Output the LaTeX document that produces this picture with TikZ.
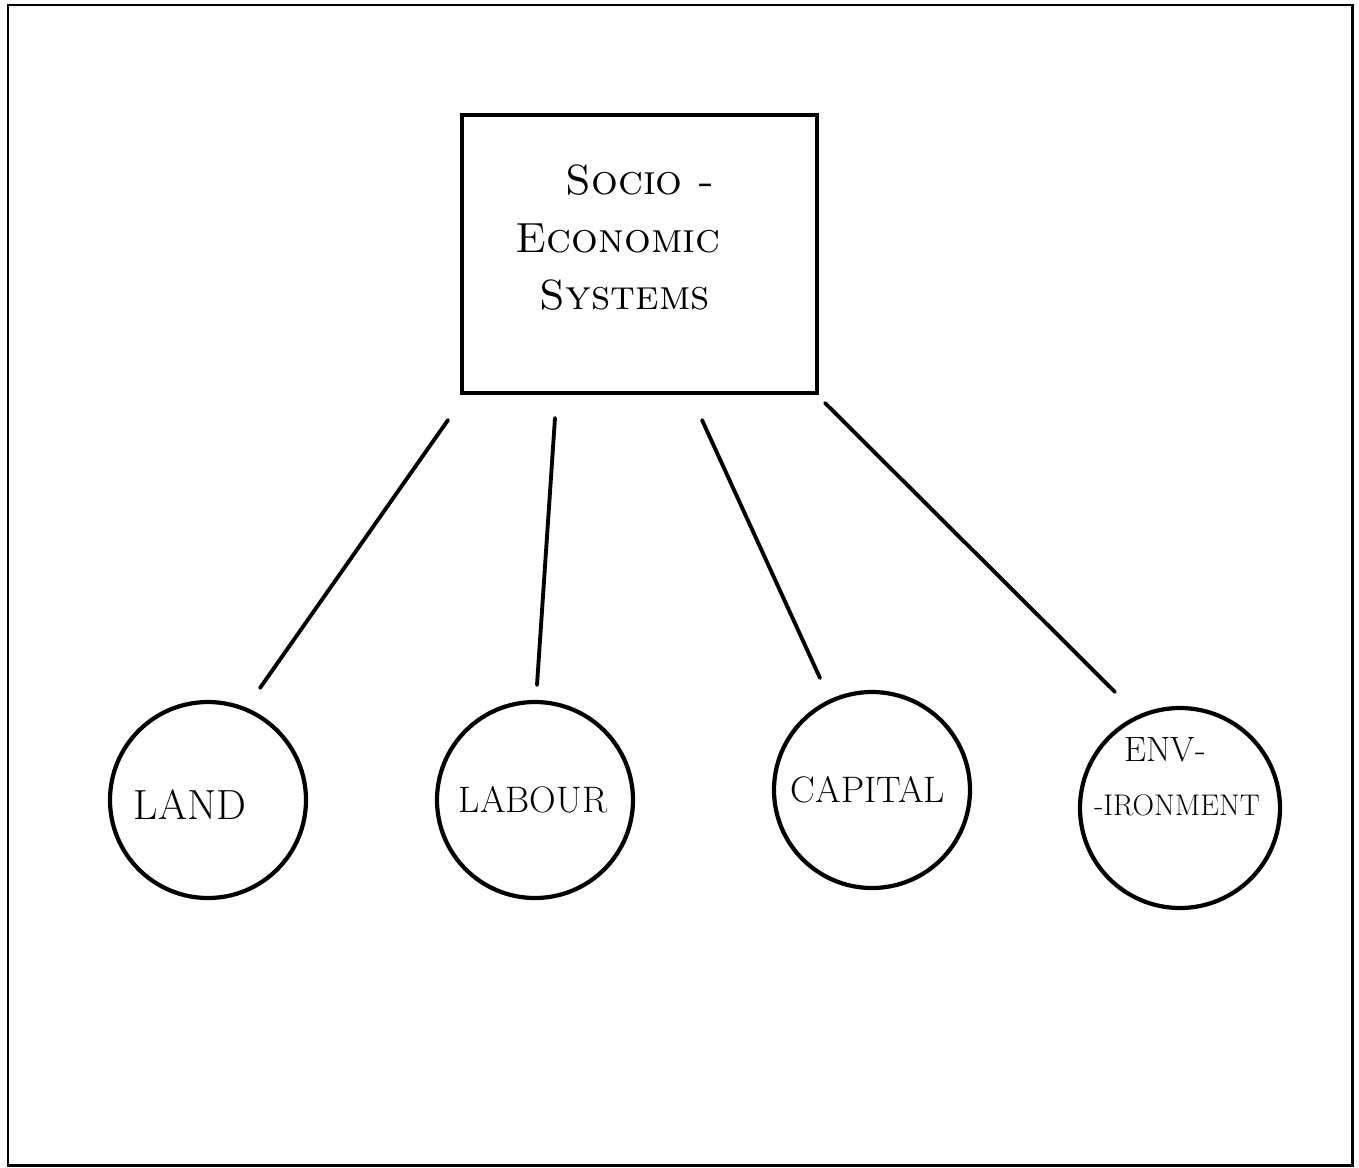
\documentclass[tikz,border=0pt]{standalone}
\usepackage{fontspec}
\begin{document}
\begin{tikzpicture}[x=0.02cm,y=-0.02cm,
  frame/.style={line width=1.7pt},
  boxst/.style={draw,line width=2pt,minimum width=355*0.02cm,minimum height=278*0.02cm,inner sep=0pt},
  circ/.style={draw,circle,line width=2.4pt,minimum size=196*0.02cm,inner sep=0pt},
  lbl/.style={font=\fontsize{24}{28}\selectfont\addfontfeature{LetterSpace=8}},
  conn/.style={line width=2.2pt,line cap=round}]
\useasboundingbox (0,0) rectangle (1359,1167);
\draw[frame] (8,5) rectangle (1352,1165);
\node[boxst] (sys) at (639.5,254) {};
\node[lbl] (t1) at (640,180) {\textsc{Socio -}};
\node[lbl] (t2) at (618,238) {\textsc{Economic}};
\node[lbl] (t3) at (625,295) {\textsc{Systems}};
\node[circ] (land) at (208,800) {};
\node[lbl] (landt) at (190,805) {LAND};
\node[circ] (labour) at (535,800) {};
\node[lbl,font=\fontsize{21}{26}\selectfont\addfontfeature{LetterSpace=8}] (labourt) at (533,800) {LABOUR};
\node[circ] (capital) at (872,790) {};
\node[lbl,font=\fontsize{21}{26}\selectfont\addfontfeature{LetterSpace=4}] (capitalt) at (868,790) {CAPITAL};
\node[circ,minimum size=200*0.02cm] (env) at (1180,808) {};
\node[lbl,font=\fontsize{20}{24}\selectfont\addfontfeature{LetterSpace=6}] (envt1) at (1165,750) {ENV-};
\node[lbl,font=\fontsize{17}{20}\selectfont\addfontfeature{LetterSpace=5}] (envt2) at (1177,805) {-IRONMENT};
\coordinate (a1) at (448,420); \coordinate (b1) at (260,688);
\coordinate (a2) at (555,418); \coordinate (b2) at (537,685);
\coordinate (a3) at (702,420); \coordinate (b3) at (820,678);
\coordinate (a4) at (825,403); \coordinate (b4) at (1115,692);
\draw[conn] (a1) -- (b1);
\draw[conn] (a2) -- (b2);
\draw[conn] (a3) -- (b3);
\draw[conn] (a4) -- (b4);
\end{tikzpicture}
\end{document}
